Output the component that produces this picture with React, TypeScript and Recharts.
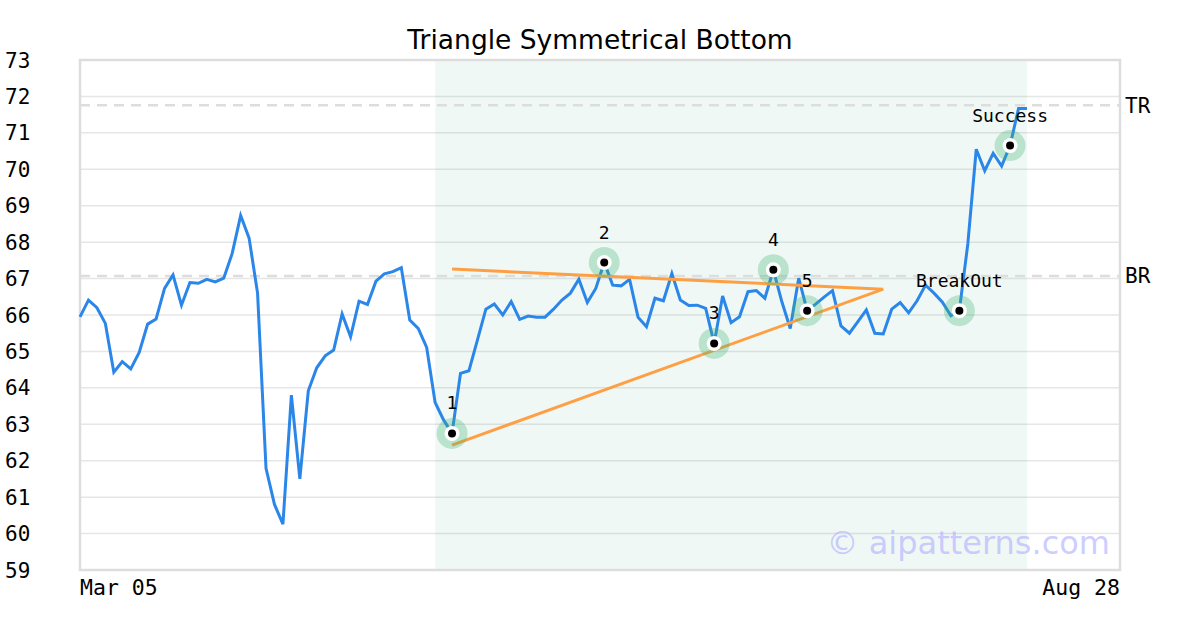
import {
  ComposedChart,
  Line,
  XAxis,
  YAxis,
  CartesianGrid,
  ReferenceLine,
  ReferenceArea,
} from "recharts";

// ── Theme ─────────────────────────────────────────────────────────────────────
const BLUE   = "#2b86e9";
const ORANGE = "#ff9f43";
const GRID   = "#e6e6e6";
const BORDER = "#dddddd";
const MONO   = "DejaVu Sans Mono, monospace";
const SANS   = "DejaVu Sans, sans-serif";

// ── Data ──────────────────────────────────────────────────────────────────────
const prices = [
  65.95, 66.41, 66.2, 65.77, 64.43, 64.72, 64.52, 64.97, 65.75, 65.89,
  66.73, 67.1, 66.27, 66.89, 66.87, 66.98, 66.91, 67.01, 67.69, 68.73,
  68.11, 66.6, 61.79, 60.8, 60.26, 63.8, 61.5, 63.92, 64.55, 64.88,
  65.04, 66.03, 65.4, 66.38, 66.29, 66.93, 67.13, 67.19, 67.3, 65.86,
  65.63, 65.11, 63.6, 63.12, 62.75, 64.4, 64.47, 65.31, 66.16, 66.3,
  66.0, 66.37, 65.88, 65.97, 65.94, 65.94, 66.16, 66.41, 66.6, 66.98,
  66.34, 66.73, 67.44, 66.82, 66.8, 66.98, 65.94, 65.68, 66.46, 66.39,
  67.14, 66.41, 66.26, 66.27, 66.18, 65.22, 66.52, 65.79, 65.95, 66.64,
  66.67, 66.46, 67.24, 66.37, 65.63, 67.01, 66.12, 66.3, 66.49, 66.67,
  65.7, 65.5, 65.82, 66.14, 65.5, 65.48, 66.16, 66.34, 66.06, 66.39,
  66.82, 66.6, 66.35, 65.98, 66.12, 67.95, 70.55, 69.96, 70.44, 70.09,
  70.65, 71.67, 71.67,
];

const xTickIdx    = [0, 123];
const xTickLabels = ["Mar 05", "Aug 28"];
const yTicks      = [59, 60, 61, 62, 63, 64, 65, 66, 67, 68, 69, 70, 71, 72, 73];

const markerIdx    = [44, 62, 75, 82, 86, 104, 110];
const markerLabels = ["1", "2", "3", "4", "5", "BreakOut", "Success"];

const upperIdx  = [44, 95];
const upperVals = [67.26, 66.71];
const lowerIdx  = [44, 95];
const lowerVals = [62.43, 66.71];

const levelNames = ["TR", "BR"];
const levelVals  = [71.76, 67.07];

const zoneIdx = [42, 112];

const rows = prices.map((v, i) => {
  const u = upperIdx.indexOf(i);
  const l = lowerIdx.indexOf(i);
  const m = markerIdx.indexOf(i);
  return {
    i,
    v,
    up: u >= 0 ? upperVals[u] : null,
    lo: l >= 0 ? lowerVals[l] : null,
    mk: m >= 0 ? v : null,
  };
});

// ── Ticks & markers ───────────────────────────────────────────────────────────
function XTick(props: any) {
  const { x, y, payload } = props;
  const k = xTickIdx.indexOf(payload.value);
  return (
    <text
      x={x}
      y={y + 17}
      textAnchor={k === 0 ? "start" : "end"}
      fontFamily={MONO}
      fontSize={21.5}
      fill="#000"
    >
      {xTickLabels[k]}
    </text>
  );
}

function YTick(props: any) {
  const { y, payload } = props;
  return (
    <text x={5} y={y} dy="0.36em" textAnchor="start" fontFamily={MONO} fontSize={21} fill="#000">
      {payload.value}
    </text>
  );
}

function Marker(props: any) {
  const { cx, cy, payload } = props;
  const k = markerIdx.indexOf(payload?.i);
  if (k < 0 || cx == null || cy == null) return <g key={`m-${payload?.i}`} />;
  return (
    <g key={`m-${payload.i}`}>
      <circle cx={cx} cy={cy} r={15.5} fill="#3cb371" fillOpacity={0.3} />
      <circle cx={cx} cy={cy} r={7.5} fill="#fff" />
      <circle cx={cx} cy={cy} r={4} fill="#000" />
      <text x={cx} y={cy - 24} textAnchor="middle" fontFamily={MONO} fontSize={18} fill="#000">
        {markerLabels[k]}
      </text>
    </g>
  );
}

export default function App() {
  return (
    <div style={{ position: "absolute", left: 0, top: 0, width: 1200, height: 630, background: "#fff" }}>
      <ComposedChart
        width={1200}
        height={630}
        data={rows}
        margin={{ top: 60, right: 80, bottom: 0, left: 0 }}
      >
        <ReferenceArea
          x1={zoneIdx[0]}
          x2={zoneIdx[1]}
          y1={59}
          y2={73}
          fill="#4fb38a"
          fillOpacity={0.085}
          stroke="none"
        />
        <CartesianGrid horizontal vertical={false} stroke={GRID} strokeWidth={1.5} />
        <XAxis
          dataKey="i"
          type="number"
          domain={[0, 123]}
          ticks={xTickIdx}
          height={60}
          axisLine={false}
          tickLine={false}
          tick={<XTick />}
          interval={0}
        />
        <YAxis
          type="number"
          domain={[59, 73]}
          ticks={yTicks}
          width={80}
          axisLine={false}
          tickLine={false}
          tick={<YTick />}
          interval={0}
        />
        {levelVals.map((v, k) => (
          <ReferenceLine
            key={levelNames[k]}
            y={v}
            stroke={BORDER}
            strokeWidth={2.5}
            strokeDasharray="10 7"
            label={{ value: levelNames[k], position: "right", fill: "#000", fontSize: 21, fontFamily: MONO }}
          />
        ))}
        <Line
          dataKey="v"
          stroke={BLUE}
          strokeWidth={3}
          dot={false}
          activeDot={false}
          isAnimationActive={false}
        />
        <Line
          dataKey="up"
          stroke={ORANGE}
          strokeWidth={3}
          dot={false}
          connectNulls
          isAnimationActive={false}
        />
        <Line
          dataKey="lo"
          stroke={ORANGE}
          strokeWidth={3}
          dot={false}
          connectNulls
          isAnimationActive={false}
        />
        <Line
          dataKey="mk"
          stroke="none"
          dot={<Marker />}
          activeDot={false}
          isAnimationActive={false}
        />
        <ReferenceArea
          x1={0}
          x2={123}
          y1={59}
          y2={73}
          fill="none"
          stroke={BORDER}
          strokeWidth={2.5}
        />
      </ComposedChart>
      <svg
        width={1200}
        height={630}
        style={{ position: "absolute", left: 0, top: 0, pointerEvents: "none" }}
      >
        <text x={600} y={49} textAnchor="middle" fontFamily={SANS} fontSize={26.5} fill="#000">
          Triangle Symmetrical Bottom
        </text>
        <text x={1110} y={554} textAnchor="end" fontFamily={SANS} fontSize={32} fill="#b0b0ff" fillOpacity={0.65}>
          © aipatterns.com
        </text>
      </svg>
    </div>
  );
}
